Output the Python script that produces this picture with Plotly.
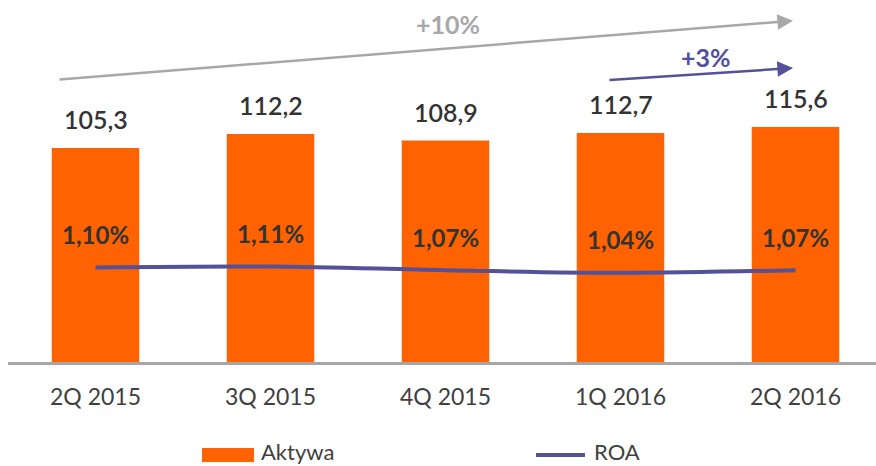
import plotly.graph_objects as go

# Quarterly data
quarters = ["2Q 2015", "3Q 2015", "4Q 2015", "1Q 2016", "2Q 2016"]
assets = [105.3, 112.2, 108.9, 112.7, 115.6]          # Aktywa
roa = [1.10, 1.11, 1.07, 1.04, 1.07]                  # ROA, %
assets_labels = ["105,3", "112,2", "108,9", "112,7", "115,6"]
roa_labels = ["1,10%", "1,11%", "1,07%", "1,04%", "1,07%"]
growth_total = "+10%"
growth_yoy = "+3%"

ORANGE = "#FF6200"
INDIGO = "#525199"
GREY = "#A8A8A8"
TEXT = "#333333"
FONT = "Lato"

W, H = 876, 466
L, R, T, B = 8, 0, 0, 104
PW, PH = W - L - R, H - T - B


def px_x(x):
    return (x - L) / PW


def px_y(y):
    return 1 - (y - T) / PH


fig = go.Figure()

fig.add_trace(go.Bar(
    x=quarters, y=assets, name="Aktywa",
    marker=dict(color=ORANGE, line=dict(width=0)),
    showlegend=False, hoverinfo="skip",
))

fig.add_trace(go.Scatter(
    x=quarters, y=roa, name="ROA", yaxis="y2", mode="lines",
    line=dict(color=INDIGO, width=4, shape="spline", smoothing=1.0),
    showlegend=False, hoverinfo="skip",
))

annotations = []
for q, v, t in zip(quarters, assets, assets_labels):
    annotations.append(dict(
        x=q, y=v, xref="x", yref="y", text=t, showarrow=False,
        yshift=29, yanchor="middle",
        font=dict(family=FONT, size=25, color=TEXT, weight=600),
    ))
for q, v, t in zip(quarters, roa, roa_labels):
    annotations.append(dict(
        x=q, y=v, xref="x", yref="y2", text=t, showarrow=False,
        yshift=33, yanchor="middle",
        font=dict(family=FONT, size=24, color=TEXT, weight="bold"),
    ))

# Growth arrows
annotations.append(dict(
    x=quarters[-1], xshift=-2.5, y=px_y(20.7), xref="x", yref="paper",
    ax=-735, ay=59, axref="pixel", ayref="pixel",
    showarrow=True, arrowhead=2, arrowsize=1.25, arrowwidth=2.5,
    arrowcolor=GREY, standoff=0, text="",
))
annotations.append(dict(
    x=2.014, y=px_y(24), xref="x", yref="paper", text=growth_total,
    showarrow=False, yanchor="middle",
    font=dict(family=FONT, size=25, color=GREY, weight="bold"),
))
annotations.append(dict(
    x=quarters[-1], xshift=-2.5, y=px_y(68), xref="x", yref="paper",
    ax=-185, ay=12, axref="pixel", ayref="pixel",
    showarrow=True, arrowhead=2, arrowsize=1.25, arrowwidth=2.5,
    arrowcolor=INDIGO, standoff=0, text="",
))
annotations.append(dict(
    x=3.49, y=px_y(57), xref="x", yref="paper", text=growth_yoy,
    showarrow=False, yanchor="middle",
    font=dict(family=FONT, size=25, color=INDIGO, weight="bold"),
))

# Legend
annotations.append(dict(
    x=px_x(260), y=px_y(466), xref="paper", yref="paper", text="Aktywa",
    showarrow=False, xanchor="left", yanchor="bottom", borderpad=0,
    font=dict(family=FONT, size=22, color="#404040"),
))
annotations.append(dict(
    x=px_x(593), y=px_y(466), xref="paper", yref="paper", text="ROA",
    showarrow=False, xanchor="left", yanchor="bottom", borderpad=0,
    font=dict(family=FONT, size=22, color="#404040"),
))
shapes = [
    dict(type="rect", xref="paper", yref="paper",
         x0=px_x(202), x1=px_x(254), y0=px_y(462), y1=px_y(448),
         fillcolor=ORANGE, line=dict(width=0)),
    dict(type="line", xref="paper", yref="paper",
         x0=px_x(536), x1=px_x(585), y0=px_y(455), y1=px_y(455),
         line=dict(color=INDIGO, width=4)),
]

fig.update_layout(
    width=W, height=H,
    margin=dict(l=L, r=R, t=T, b=B, pad=0),
    paper_bgcolor="white", plot_bgcolor="white",
    bargap=0.5,
    xaxis=dict(
        type="category", range=[-0.5, -0.5 + PW / 175],
        showline=True, linecolor="#A6A6A6", linewidth=3,
        showgrid=False, zeroline=False, ticks="",
        tickfont=dict(family=FONT, size=23, color="#404040"),
        ticklabelstandoff=12,
    ),
    yaxis=dict(range=[0, PH / 2.033], visible=False, showgrid=False),
    yaxis2=dict(range=[0.05, 4.07], overlaying="y", visible=False,
                showgrid=False),
    annotations=annotations,
    shapes=shapes,
    showlegend=False,
)

fig.write_html("out.html")
